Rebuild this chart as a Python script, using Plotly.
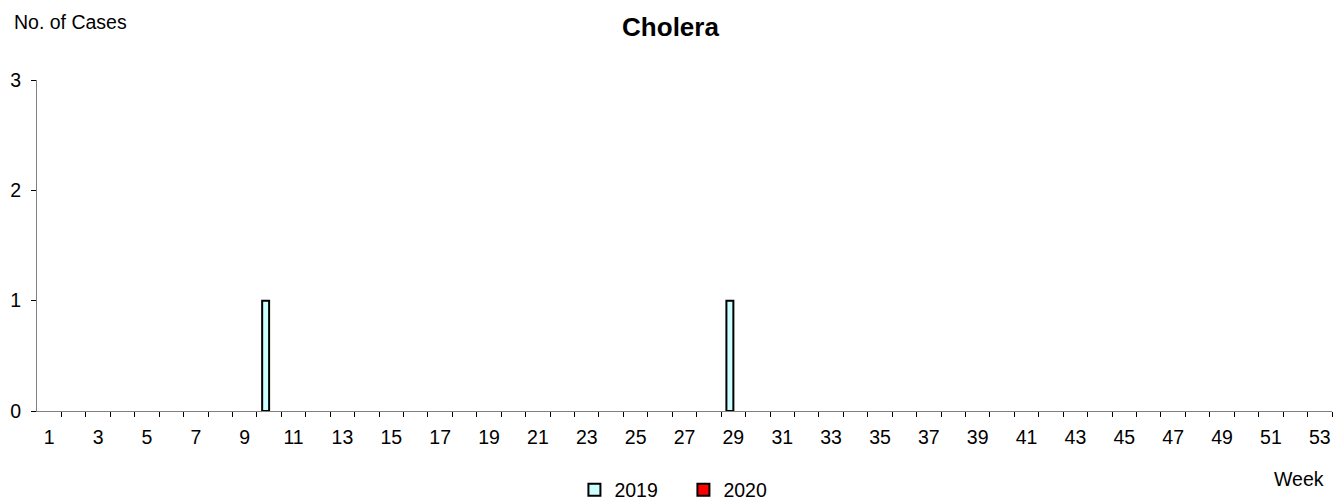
import plotly.graph_objects as go

weeks = list(range(1, 54))
cases_2019 = [0, 0, 0, 0, 0, 0, 0, 0, 0, 1,
              0, 0, 0, 0, 0, 0, 0, 0, 0, 0,
              0, 0, 0, 0, 0, 0, 0, 0, 1, 0,
              0, 0, 0, 0, 0, 0, 0, 0, 0, 0,
              0, 0, 0, 0, 0, 0, 0, 0, 0, 0,
              0, 0, 0]
cases_2020 = [0] * 53
week_labels = list(range(1, 54, 2))
y_ticks = [0, 1, 2, 3]

font = "Liberation Sans, Arial, sans-serif"
fs = 19.5

# Excel doesn't draw zero-height bars, so blank them out for plotting
def shown(vals):
    return [v if v else None for v in vals]

fig = go.Figure()
fig.add_trace(go.Bar(x=weeks, y=shown(cases_2019), name="2019",
                     marker=dict(color="#CCFFFF", line=dict(color="black", width=2))))
fig.add_trace(go.Bar(x=weeks, y=shown(cases_2020), name="2020",
                     marker=dict(color="#FF0000", line=dict(color="black", width=2))))

# page has an 8px body margin, so the figure is sized/offset for that
fig.update_layout(
    width=1333, height=494,
    margin=dict(l=29, r=9, t=72, b=91, autoexpand=False),
    paper_bgcolor="white", plot_bgcolor="white",
    font=dict(family=font, size=fs, color="black"),
    barmode="group", bargap=0.43, bargroupgap=0,
    title=dict(text="<b>Cholera</b>", x=0.497, xanchor="center", y=0.9615, yanchor="middle",
               font=dict(size=26, family=font)),
    showlegend=True,
    legend=dict(orientation="h", x=0.415, xanchor="left", y=-0.2387, yanchor="middle",
                font=dict(size=fs), itemwidth=30, traceorder="normal",
                entrywidth=64, entrywidthmode="pixels"),
    annotations=[
        dict(text="No. of Cases", xref="paper", yref="paper", x=-0.0195, y=1.175,
             xanchor="left", yanchor="middle", showarrow=False, font=dict(size=fs)),
        dict(text="Week", xref="paper", yref="paper", x=0.9954, y=-0.2054,
             xanchor="right", yanchor="middle", showarrow=False, font=dict(size=fs)),
    ],
)

fig.update_xaxes(
    range=[0.5, 53.5], tickvals=week_labels, ticktext=[str(w) for w in week_labels],
    ticks="", showgrid=False, zeroline=False,
    showline=True, linecolor="#808080", linewidth=1,
    minor=dict(tickvals=[w + 0.5 for w in weeks], ticks="outside", ticklen=5,
               tickcolor="black", showgrid=False),
    tickfont=dict(size=fs), ticklabelstandoff=9,
)
fig.update_yaxes(
    range=[0, 3], tickvals=y_ticks, ticks="outside", ticklen=5, tickcolor="black",
    showgrid=False, zeroline=False, showline=True, linecolor="#808080", linewidth=1,
    tickfont=dict(size=fs), ticklabelstandoff=6,
)

fig.write_html("out.html")
